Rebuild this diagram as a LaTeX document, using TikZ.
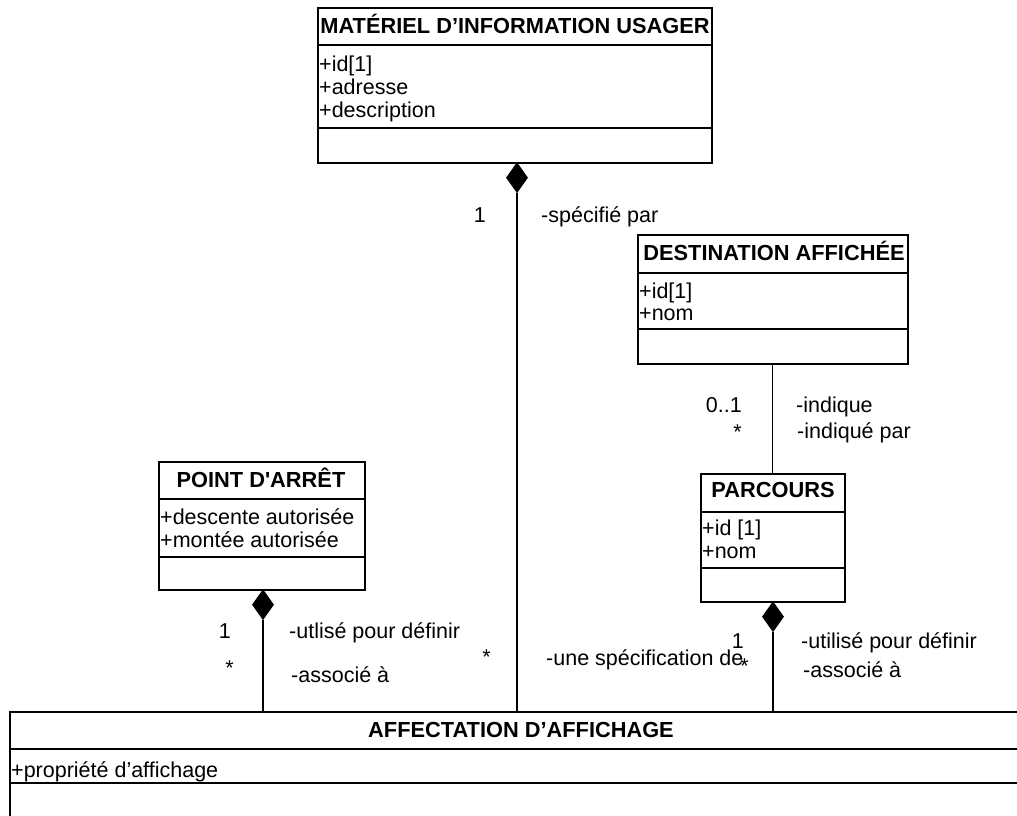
\documentclass[tikz,border=0pt]{standalone}
\usepackage{fontspec}
\setmainfont{Liberation Sans}
\usetikzlibrary{shapes.geometric}
\begin{document}
\begin{tikzpicture}[x=1pt,y=-1pt,
  box/.style={draw, line width=1.5pt, inner sep=0pt, anchor=north west},
  sep/.style={line width=1.5pt},
  conn/.style={line width=1.2pt},
  dia/.style={diamond, fill=black, draw=none, inner sep=0pt, minimum width=22pt, minimum height=31pt, aspect=0.7, anchor=north},
  title/.style={font=\fontsize{21.8}{24}\selectfont\bfseries, anchor=base, inner sep=0pt},
  attr/.style={font=\fontsize{21.5}{24}\selectfont, anchor=base west, inner sep=0pt},
  lbl/.style={font=\fontsize{21.5}{24}\selectfont, anchor=base west, inner sep=0pt},
  lblr/.style={font=\fontsize{21.5}{24}\selectfont, anchor=base east, inner sep=0pt},
]
\useasboundingbox (0,0) rectangle (1017,815);
\fill[white] (0,0) rectangle (1017,815);

% MATERIEL
\node[box, minimum width=394pt, minimum height=155pt] (mat) at (317,7) {};
\draw[sep] (317,45) -- (711,45);
\draw[sep] (317,128) -- (711,128);
\node[title] (matT) at (515,33) {MATÉRIEL D’INFORMATION USAGER};
\node[attr] (matA1) at (319,71) {+id[1]};
\node[attr] (matA2) at (319,94) {+adresse};
\node[attr] (matA3) at (319,117) {+description};

% DESTINATION
\node[box, minimum width=270pt, minimum height=129pt] (dest) at (637,234) {};
\draw[sep] (637,273) -- (907,273);
\draw[sep] (637,329) -- (907,329);
\node[title] (destT) at (774,260) {DESTINATION AFFICHÉE};
\node[attr] (destA1) at (639,298) {+id[1]};
\node[attr] (destA2) at (639,320) {+nom};

% PARCOURS
\node[box, minimum width=144pt, minimum height=128pt] (parc) at (700,473) {};
\draw[sep] (700,512) -- (844,512);
\draw[sep] (700,568) -- (844,568);
\node[title] (parcT) at (773,497) {PARCOURS};
\node[attr] (parcA1) at (702,535) {+id [1]};
\node[attr] (parcA2) at (702,558) {+nom};

% POINT D'ARRET
\node[box, minimum width=206pt, minimum height=128pt] (point) at (158,461) {};
\draw[sep] (158,499) -- (364,499);
\draw[sep] (158,557) -- (364,557);
\node[title] (pointT) at (261,487) {POINT D\textquotesingle ARRÊT};
\node[attr] (pointA1) at (160,524) {+descente autorisée};
\node[attr] (pointA2) at (160,547) {+montée autorisée};

% AFFECTATION
\node[box, minimum width=1022pt, minimum height=130pt] (aff) at (9,711) {};
\draw[sep] (9,749) -- (1031,749);
\draw[sep] (9,783) -- (1031,783);
\node[title] (affT) at (521,737) {AFFECTATION D’AFFICHAGE};
\node[attr] (affA1) at (11,777) {+propriété d’affichage};

% diamonds
\node[dia] (matD) at (517,162) {};
\node[dia] (pointD) at (263,589) {};
\node[dia] (parcD) at (773,601) {};

% connectors
\draw[conn] (matD.south) -- (matD.south |- aff.north);
\draw[conn] (pointD.south) -- (pointD.south |- aff.north);
\draw[conn] (parcD.south) -- (parcD.south |- aff.north);
\draw[conn] (dest.south) -- (dest.south |- parc.north);

% labels
\node[lblr] (l1) at (486,222) {1};
\node[lbl] (l2) at (541,222) {-spécifié par};
\node[lblr] (l3) at (742,412) {0..1};
\node[lbl] (l4) at (796,412) {-indique};
\node[lblr] (l5) at (742,439) {*};
\node[lbl] (l6) at (797,438) {-indiqué par};
\node[lblr] (l7) at (744,648) {1};
\node[lblr] (l8) at (749,673) {*};
\node[lbl] (l9) at (801,648) {-utilisé pour définir};
\node[lbl] (l10) at (803,677) {-associé à};
\node[lbl] (l11) at (546,665) {-une spécification de};
\node[lblr] (l12) at (491,664) {*};
\node[lblr] (l13) at (231,638) {1};
\node[lblr] (l14) at (234,675) {*};
\node[lbl] (l15) at (289,638) {-utlisé pour définir};
\node[lbl] (l16) at (291,682) {-associé à};
\end{tikzpicture}
\end{document}
